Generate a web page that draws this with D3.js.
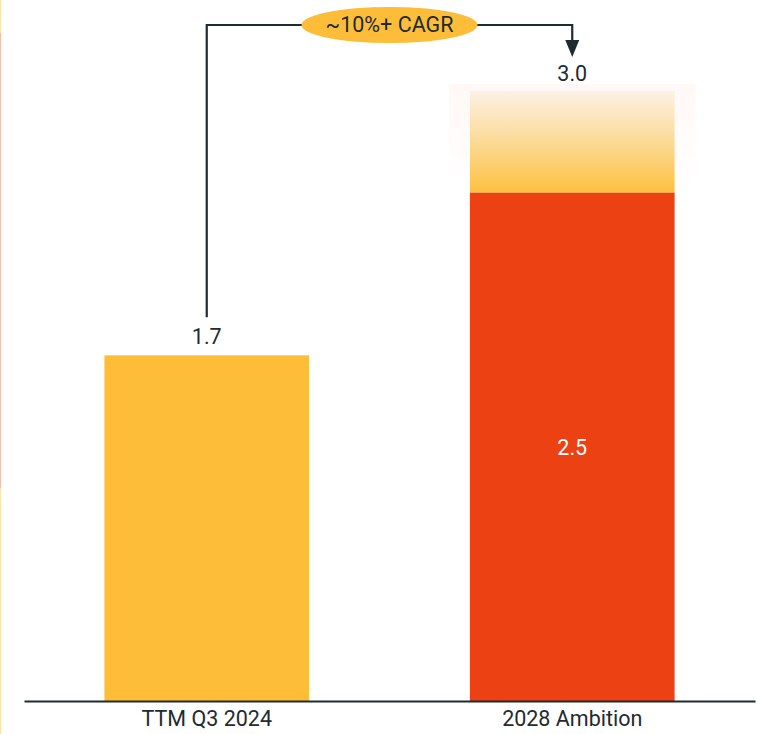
<!DOCTYPE html>
<html>
<head>
<meta charset="utf-8">
<script src="https://cdn.jsdelivr.net/npm/d3@7"></script>
<style>
  html, body { margin: 0; padding: 0; background: #ffffff; }
  svg { display: block; font-family: Roboto, "Noto Sans", sans-serif; }
</style>
</head>
<body>
<svg id="chart" width="761" height="734"></svg>
<script>
// Revenue bars, in billions
const categories = ["TTM Q3 2024", "2028 Ambition"];
const baseValues = [1.7, 2.5];
const ambitionTop = 3.0;
const growthLabel = "~10%+ CAGR";

const svg = d3.select("#chart");
const W = 761, H = 734;
const margin = { left: 24, right: 6, top: 91, bottom: 33 };
const baselineY = H - margin.bottom;
const fontSize = 21.5;

const x = d3.scaleBand()
  .domain(categories)
  .range([24, 755])
  .paddingInner(0.44)
  .paddingOuter(0.22);

const y = d3.scaleLinear()
  .domain([0, ambitionTop])
  .range([baselineY, margin.top]);

const ink = "#1d2b33";
const yellow = "#fdbd39";
const red = "#ec4113";

const defs = svg.append("defs");
const grad = defs.append("linearGradient")
  .attr("id", "upside").attr("x1", 0).attr("y1", 1).attr("x2", 0).attr("y2", 0);
grad.append("stop").attr("offset", "0%").attr("stop-color", "#fdc03e");
grad.append("stop").attr("offset", "45%").attr("stop-color", "#fcd88e");
grad.append("stop").attr("offset", "100%").attr("stop-color", "#fdf1e6");

const halo = defs.append("linearGradient")
  .attr("id", "halo").attr("x1", 0).attr("y1", 0).attr("x2", 0).attr("y2", 1);
halo.append("stop").attr("offset", "0%").attr("stop-color", "#fff8f6");
halo.append("stop").attr("offset", "100%").attr("stop-color", "#ffffff");

// thin decorative edge on the left border
svg.append("rect").attr("x", 0).attr("y", 0).attr("width", 1).attr("height", 33).attr("fill", "#fde7a8");
svg.append("rect").attr("x", 0).attr("y", 33).attr("width", 1).attr("height", 455).attr("fill", "#fbbcaa");
svg.append("rect").attr("x", 0).attr("y", 488).attr("width", 1).attr("height", H - 488).attr("fill", "#fde7a8");

// soft halo behind the upside segment
const bx2 = x(categories[1]);
svg.append("rect")
  .attr("x", bx2 - 21).attr("y", y(ambitionTop) - 7)
  .attr("width", x.bandwidth() + 42).attr("height", y(baseValues[1]) - y(ambitionTop))
  .attr("fill", "url(#halo)");

// upside range from base ambition to top ambition
svg.append("rect")
  .attr("x", bx2).attr("y", y(ambitionTop))
  .attr("width", x.bandwidth()).attr("height", y(baseValues[1]) - y(ambitionTop))
  .attr("fill", "url(#upside)");

// main bars
svg.selectAll("rect.bar")
  .data(categories.map((c, i) => ({ c, v: baseValues[i] })))
  .join("rect")
  .attr("class", "bar")
  .attr("x", d => x(d.c))
  .attr("y", d => y(d.v))
  .attr("width", x.bandwidth())
  .attr("height", d => baselineY - y(d.v))
  .attr("fill", (d, i) => i === 0 ? yellow : red);

// baseline axis
const axis = d3.axisBottom(x).tickSize(0).tickPadding(10);
const gx = svg.append("g").attr("transform", `translate(0,${baselineY})`).call(axis);
gx.select(".domain").attr("stroke", ink).attr("stroke-width", 2);
gx.selectAll("text").attr("font-size", fontSize).attr("fill", ink).attr("font-family", "Roboto, sans-serif");

// value labels
const cx0 = x(categories[0]) + x.bandwidth() / 2;
const cx1 = bx2 + x.bandwidth() / 2;
svg.append("text").attr("x", cx0).attr("y", y(baseValues[0]) - 11)
  .attr("text-anchor", "middle").attr("font-size", fontSize).attr("fill", ink).text(baseValues[0].toFixed(1));
svg.append("text").attr("x", cx1).attr("y", y(ambitionTop) - 10)
  .attr("text-anchor", "middle").attr("font-size", fontSize).attr("fill", ink).text(ambitionTop.toFixed(1));
svg.append("text").attr("x", cx1).attr("y", (y(baseValues[1]) + baselineY) / 2 + 2)
  .attr("text-anchor", "middle").attr("dominant-baseline", "middle")
  .attr("font-size", fontSize).attr("fill", "#ffffff").text(baseValues[1].toFixed(1));

// growth connector
const topY = 25;
svg.append("path")
  .attr("d", `M${cx0},${y(baseValues[0]) - 38} V${topY} H${cx1} V${y(ambitionTop) - 48}`)
  .attr("fill", "none").attr("stroke", ink).attr("stroke-width", 2.2);
svg.append("path")
  .attr("d", `M${cx1 - 7},${y(ambitionTop) - 51} L${cx1 + 7},${y(ambitionTop) - 51} L${cx1},${y(ambitionTop) - 34} Z`)
  .attr("fill", ink);

const mid = (cx0 + cx1) / 2;
svg.append("ellipse").attr("cx", mid).attr("cy", topY).attr("rx", 88).attr("ry", 18).attr("fill", yellow);
svg.append("text").attr("x", mid).attr("y", topY + 1)
  .attr("text-anchor", "middle").attr("dominant-baseline", "middle")
  .attr("font-size", fontSize).attr("fill", ink).text(growthLabel);
</script>
</body>
</html>
